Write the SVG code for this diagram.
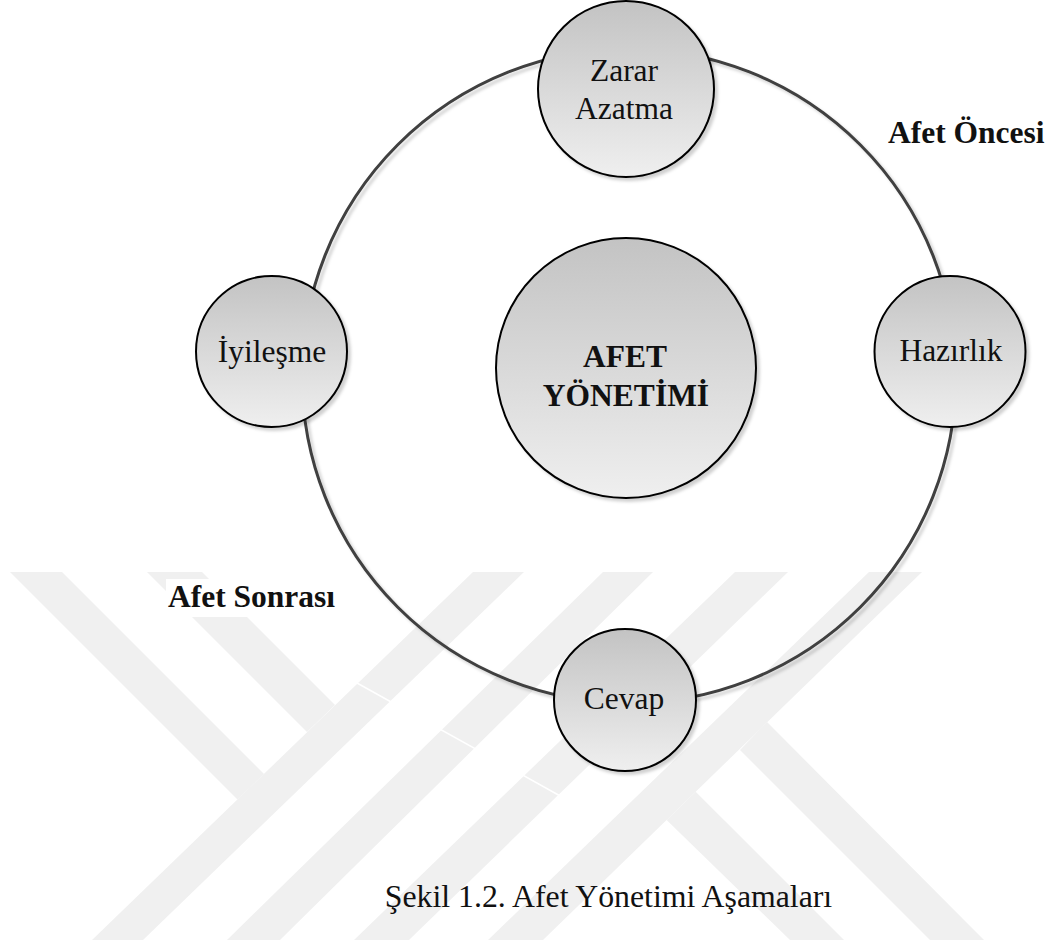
<svg xmlns="http://www.w3.org/2000/svg" width="1052" height="947" viewBox="0 0 1052 947">
<defs>
<linearGradient id="g" x1="0" y1="0" x2="0" y2="1"><stop offset="0" stop-color="#c3c3c3"/><stop offset="1" stop-color="#efefef"/></linearGradient>
<filter id="sh" x="-10%" y="-10%" width="125%" height="125%"><feDropShadow dx="3" dy="3" stdDeviation="1.5" flood-color="#000" flood-opacity="0.18"/></filter>
</defs>
<style>
.wm{fill:#f0f0f0}
.node{fill:url(#g);stroke:#000;stroke-width:2;filter:url(#sh)}
.t{font-family:"Liberation Serif","Times New Roman",serif;font-size:31.5px;fill:#111;text-anchor:middle}
.b{font-weight:bold}
.lbl{text-anchor:start}
.ring{fill:none;stroke:#404040;stroke-width:3;filter:url(#sh)}
</style>
<rect width="1052" height="947" fill="#fff"/>
<g id="watermark">
<polygon class="wm" points="10,572 62,572 264,774 237.5,799.5"/>
<polygon class="wm" points="147,572 202,572 335,705 307,732"/>
<polygon class="wm" points="473,572 524,572 143,940 92,940"/>
<polygon class="wm" points="603,572 653,572 280,940 227,940"/>
<polygon class="wm" points="735,572 788,572 409,940 354,940"/>
<polygon class="wm" points="869,572 922,572 543,940 488,940"/>
<polygon class="wm" points="767,722 984,940 930,940 740,750"/>
<polygon class="wm" points="695.7,791.7 844,940 790,940 666.6,820"/>
<line x1="357" y1="683" x2="562" y2="797" stroke="#fff" stroke-width="1.5"/>
<rect x="166" y="579" width="172" height="38" fill="#fff"/>
</g>
<g id="connectors">
<circle class="ring" cx="629" cy="376" r="327"/>
</g>
<g id="node-center">
<circle class="node" cx="626" cy="368" r="130"/>
<text class="t b" x="625" y="367">AFET</text>
<text class="t b" x="626" y="406">YÖNETİMİ</text>
</g>
<g id="node-zarar">
<circle class="node" cx="626" cy="89" r="88"/>
<text class="t" x="624" y="81">Zarar</text>
<text class="t" x="624" y="119">Azatma</text>
</g>
<g id="node-hazirlik">
<circle class="node" cx="950" cy="351.5" r="75.5"/>
<text class="t" x="951" y="361">Hazırlık</text>
</g>
<g id="node-iyilesme">
<circle class="node" cx="271.5" cy="351.5" r="75.5"/>
<text class="t" x="272" y="362">İyileşme</text>
</g>
<g id="node-cevap">
<circle class="node" cx="625" cy="700" r="71"/>
<text class="t" x="624" y="709">Cevap</text>
</g>
<g id="labels">
<text class="t b lbl" x="888" y="143">Afet Öncesi</text>
<text class="t b lbl" x="168" y="607">Afet Sonrası</text>
<text class="t" x="608.5" y="907" style="font-size:31.8px">Şekil 1.2. Afet Yönetimi Aşamaları</text>
</g>
</svg>
